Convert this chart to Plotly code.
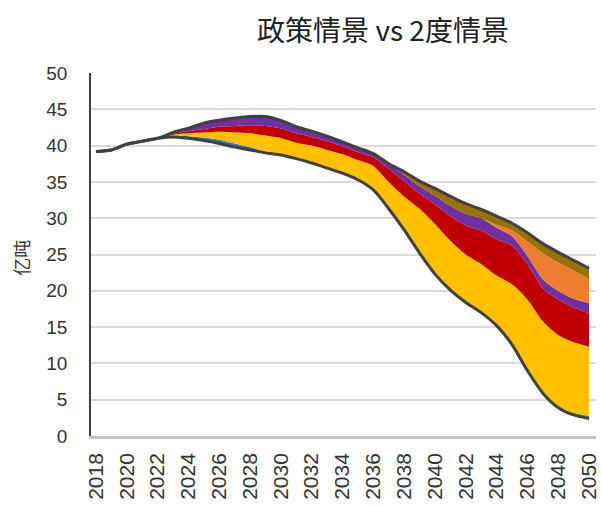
import numpy as np
import plotly.graph_objects as go

years = list(range(2018, 2051))

# 2度情景 emission path (亿吨) - the lower boundary of the wedge stack
two_degree = [39.2, 39.4, 40.2, 40.6, 41.0, 41.2, 41.0, 40.7, 40.3, 39.8,
              39.4, 39.0, 38.7, 38.2, 37.6, 36.9, 36.2, 35.3, 33.9, 31.3,
              28.4, 25.2, 22.3, 20.1, 18.4, 17.0, 15.2, 12.6, 9.0, 5.9,
              3.9, 2.9, 2.4]

# Reduction wedges stacked on top of the 2度 path (亿吨)
wedge_blue = [0, 0, 0, 0, 0, 0.1, 0.3, 0.4, 0.5, 0.5,
              0.4, 0.2, 0.05, 0, 0, 0, 0, 0, 0, 0,
              0, 0, 0, 0, 0, 0, 0, 0, 0, 0,
              0, 0, 0]
wedge_green = [0, 0, 0, 0, 0, 0, 0, 0, 0, 0,
               0, 0, 0, 0, 0, 0, 0, 0, 0, 0,
               0, 0, 0, 0, 0, 0, 0, 0, 0, 0,
               0.1, 0.3, 0.4]
wedge_yellow = [0, 0, 0, 0, 0, 0.2, 0.4, 0.7, 1.1, 1.5,
                1.9, 2.2, 2.3, 2.2, 2.4, 2.5, 2.6, 2.7, 3.3, 3.7,
                4.6, 6.1, 6.9, 6.8, 6.6, 6.7, 6.9, 8.3, 9.8, 9.9,
                9.9, 9.7, 9.5]
wedge_red = [0, 0, 0, 0, 0, 0.1, 0.3, 0.5, 0.7, 0.9,
             1.1, 1.3, 1.3, 1.3, 1.2, 1.2, 1.1, 1.1, 1.2, 1.8,
             2.1, 2.1, 2.7, 3.4, 4.0, 4.6, 5.0, 5.3, 4.9, 4.6,
             4.9, 4.8, 4.6]
wedge_purple = [0, 0, 0, 0, 0, 0.2, 0.4, 0.8, 0.9, 1.1,
                1.2, 1.3, 1.1, 0.9, 0.8, 0.7, 0.6, 0.6, 0.5, 0.6,
                0.9, 1.0, 1.2, 1.4, 1.6, 1.7, 1.6, 1.3, 1.1, 1.2,
                1.2, 1.2, 1.4]
wedge_orange = [0, 0, 0, 0, 0, 0, 0, 0, 0, 0,
                0, 0, 0, 0, 0, 0, 0, 0, 0, 0,
                0, 0, 0, 0, 0, 0, 0.4, 0.8, 2.0, 3.6,
                3.9, 3.9, 3.3]
wedge_olive = [0, 0, 0, 0, 0, 0, 0, 0, 0, 0,
               0, 0, 0, 0, 0, 0, 0, 0, 0, 0.1,
               0.4, 0.7, 1.0, 1.3, 1.4, 1.2, 1.2, 1.0, 1.2, 1.3,
               1.4, 1.4, 1.5]

wedges = [
    (wedge_blue, "#4472C4"),
    (wedge_green, "#70AD47"),
    (wedge_yellow, "#FFC000"),
    (wedge_red, "#C00000"),
    (wedge_purple, "#7030A0"),
    (wedge_orange, "#ED7D31"),
    (wedge_olive, "#997300"),
]

# 政策情景 path = 2度 path plus all wedges
policy = np.array(two_degree) + np.sum([np.array(w) for w, _ in wedges], axis=0)

x_ticks = list(range(2018, 2051, 2))
y_ticks = list(range(0, 51, 5))

SPLINE = dict(shape="spline", smoothing=0.8)
EDGE = "#404040"
TEXT = "#333333"

fig = go.Figure()

# invisible base of the stack
fig.add_trace(go.Scatter(
    x=years, y=two_degree, stackgroup="wedge", mode="lines",
    line=dict(width=0, **SPLINE), fillcolor="rgba(0,0,0,0)",
    hoverinfo="skip", showlegend=False,
))
for values, color in wedges:
    fig.add_trace(go.Scatter(
        x=years, y=values, stackgroup="wedge", mode="lines",
        line=dict(width=0, color=color, **SPLINE), fillcolor=color,
        showlegend=False,
    ))

# scenario outlines
fig.add_trace(go.Scatter(
    x=years, y=policy, mode="lines", name="政策情景",
    line=dict(color=EDGE, width=3, **SPLINE), showlegend=False,
))
fig.add_trace(go.Scatter(
    x=years, y=two_degree, mode="lines", name="2度情景",
    line=dict(color=EDGE, width=3, **SPLINE), showlegend=False,
))

fig.update_layout(
    width=602, height=506,
    margin=dict(l=91, r=2, t=73, b=70),
    paper_bgcolor="white", plot_bgcolor="white",
    font=dict(family="Liberation Sans, Arial, Noto Sans CJK SC", color=TEXT),
    title=dict(
        text="政策情景 vs 2度情景",
        font=dict(family="Noto Sans CJK SC, Liberation Sans", size=28, color="#222222"),
        xref="container", x=383 / 602, xanchor="center",
        yref="container", y=1 - 31 / 506, yanchor="middle",
    ),
    xaxis=dict(
        range=[2017.68, 2050.45],
        tickmode="array", tickvals=x_ticks, ticktext=[str(v) for v in x_ticks],
        tickangle=-90, tickfont=dict(size=21, color=TEXT),
        showgrid=False, zeroline=False,
        showline=True, linecolor="#c4c4c4", linewidth=2.5,
        ticks="", ticklabelstandoff=6, ticklabeloverflow="allow",
    ),
    yaxis=dict(
        range=[0, 50],
        tickmode="array", tickvals=y_ticks,
        tickfont=dict(size=19, color=TEXT),
        showgrid=True, gridcolor="#dadada", gridwidth=1.5,
        zeroline=False,
        showline=True, linecolor="#404040", linewidth=1.5,
        ticks="", ticklabelstandoff=18,
    ),
    annotations=[dict(
        text="亿吨", textangle=-90,
        xref="paper", yref="paper", x=(21 - 91) / 509, y=0.49,
        xanchor="center", yanchor="middle", showarrow=False,
        font=dict(family="Noto Sans CJK SC", size=18, color=TEXT),
    )],
)

fig.write_html("out.html")
